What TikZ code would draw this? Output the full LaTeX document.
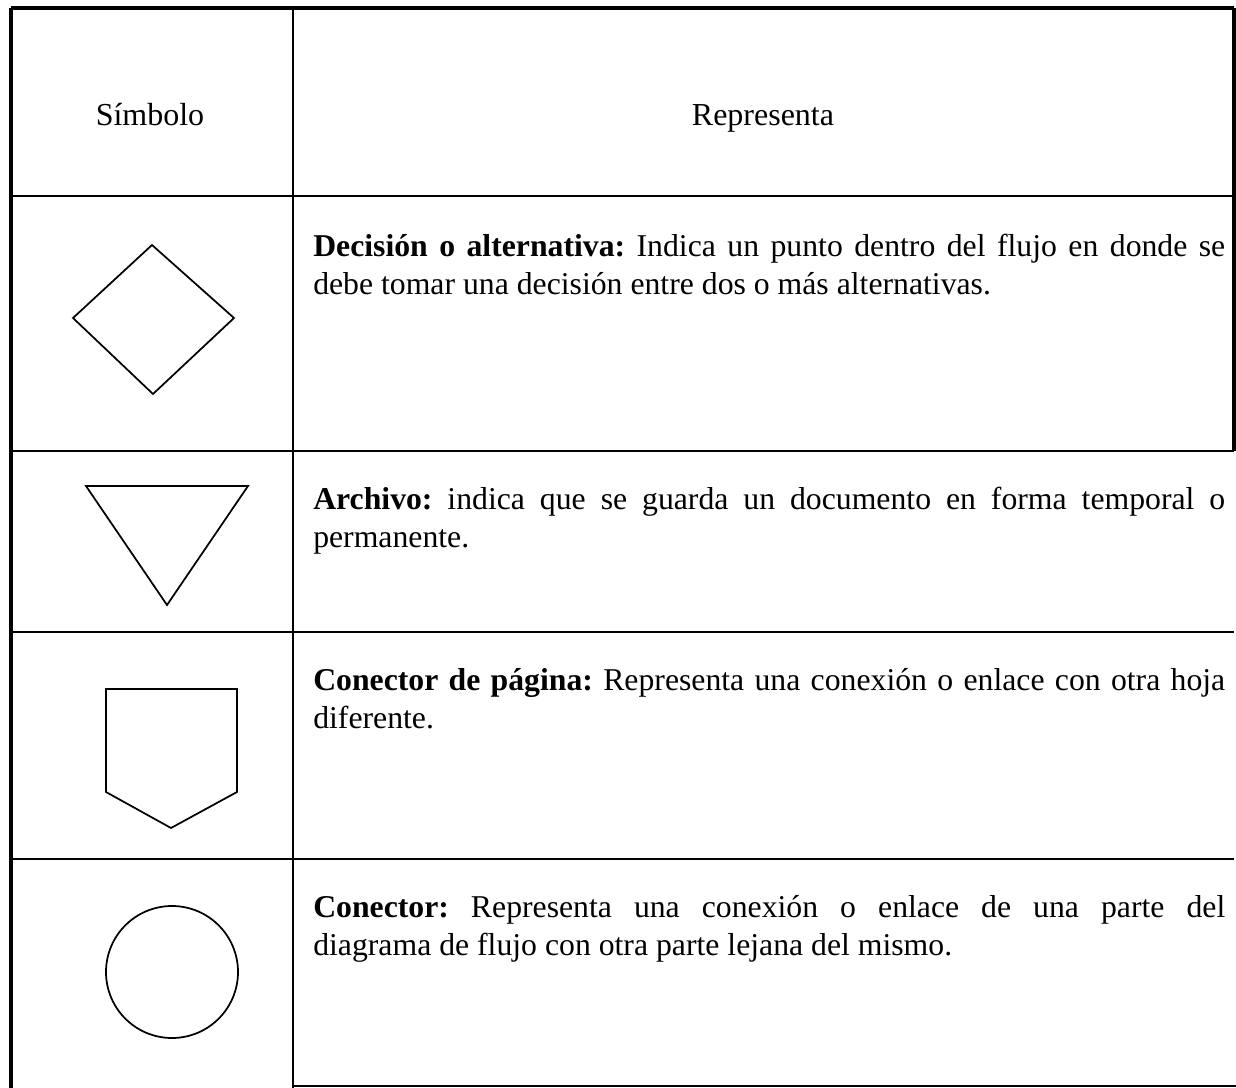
\documentclass[tikz,border=0pt]{standalone}
\usepackage{fontspec}
\setmainfont{Liberation Serif}
\usepackage{tikz}
\frenchspacing

\begin{document}
\begin{tikzpicture}[x=0.75pt,y=0.75pt,yscale=-1,xscale=1,
  frame/.style={line width=3pt},
  rule/.style={line width=1.5pt},
  symb/.style={line width=1.3pt},
  head/.style={anchor=base,inner sep=0pt,font=\fontsize{24pt}{28.5pt}\selectfont},
  desc/.style={anchor=base west,inner sep=0pt,text width=684pt,align=justify,font=\fontsize{23.8pt}{28.5pt}\selectfont}]
\useasboundingbox (0,0) rectangle (1236,1088);

%Straight Lines (outer frame)
\draw [frame]   (11,8) -- (1234,8) ;
\draw [frame]   (11,8) -- (11,1088) ;
\draw [frame]   (1234,8) -- (1234,451) ;

%Straight Lines (column divider)
\draw [rule]    (293,8) -- (293,1088) ;

%Straight Lines (row rules)
\draw [rule]    (11,196) -- (1234,196) ;
\draw [rule]    (11,451) -- (1234,451) ;
\draw [rule]    (11,632) -- (1234,632) ;
\draw [rule]    (11,859) -- (1234,859) ;
\draw [rule]    (293,1086) -- (1236,1086) ;

%Shape: Diamond
\draw [symb]   (152,245) -- (234,318) -- (153,394) -- (73,318) -- cycle ;
%Shape: Triangle
\draw [symb]   (86,486) -- (248,486) -- (167,605) -- cycle ;
%Shape: Pentagon
\draw [symb]   (106,689) -- (237,689) -- (237,792) -- (171,828) -- (106,792) -- cycle ;
%Shape: Circle
\draw [symb]   (172,972) circle [radius=66] ;

% Text Node
\node [head] (simbolo) at (150,126) {Símbolo};
% Text Node
\node [head] (representa) at (763,126) {Representa};
% Text Node
\node [desc] (decision) at (313,256) {\textbf{Decisión o alternativa:} Indica un punto dentro del flujo en donde se\linebreak debe tomar una decisión entre dos o más alternativas.};
% Text Node
\node [desc] (archivo) at (313,509) {\textbf{Archivo:} indica que se guarda un documento en forma temporal o\linebreak permanente.};
% Text Node
\node [desc] (pagina) at (313,690) {\textbf{Conector de página:} Representa una conexión o enlace con otra hoja\linebreak diferente.};
% Text Node
\node [desc] (conector) at (313,917) {\textbf{Conector:} Representa una conexión o enlace de una parte del\linebreak diagrama de flujo con otra parte lejana del mismo.};

\end{tikzpicture}
\end{document}
